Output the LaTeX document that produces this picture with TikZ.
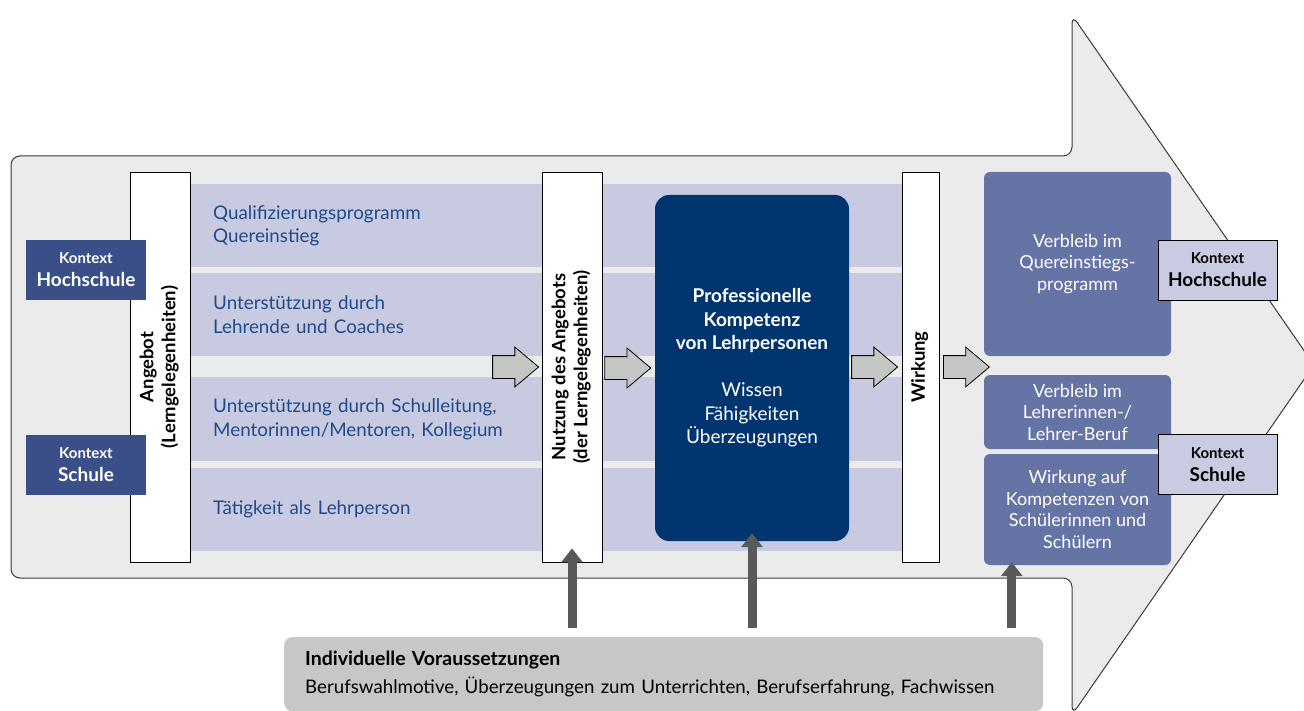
\documentclass[tikz,border=0pt]{standalone}
\usepackage{fontspec}
\setmainfont{Lato}
\usepackage{graphicx}
\usetikzlibrary{arrows.meta,positioning,calc,shapes.arrows}
\definecolor{bgarrow}{HTML}{EBEBEB}
\definecolor{outline}{HTML}{3A3A3A}
\definecolor{rowfill}{HTML}{C8CAE2}
\definecolor{rowtext}{HTML}{1F4B8B}
\definecolor{navy}{HTML}{00356F}
\definecolor{slate}{HTML}{3A4E87}
\definecolor{midblue}{HTML}{6673A5}
\definecolor{paleblue}{HTML}{C9CBE3}
\definecolor{arrowgray}{HTML}{C4C6C4}
\definecolor{boxgray}{HTML}{C6C7C6}
\definecolor{darkgray}{HTML}{595959}
\newcommand{\hochkant}[1]{\rotatebox{90}{\begin{tabular}{@{}c@{}}#1\end{tabular}}}
\newcommand{\kontext}[1]{{\fontsize{15}{17}\selectfont Kontext}\\[0pt]#1}

\begin{document}
\begin{tikzpicture}[x=1pt, y=-1pt,
  font=\fontsize{18.8}{23.5}\selectfont,
  row/.style={anchor=north west, fill=rowfill, text=rowtext, minimum height=83pt, text width=666pt, inner xsep=23pt, align=left},
  bar/.style={draw=black, fill=white, line width=0.8pt, minimum height=390pt, inner sep=0pt, font=\bfseries\fontsize{18.5}{22}\selectfont},
  ctxleft/.style={fill=slate, text=white, minimum width=120pt, minimum height=60pt, inner sep=0pt, align=center, font=\bfseries\fontsize{19}{23}\selectfont},
  ctxright/.style={ctxleft, fill=paleblue, draw=black, line width=0.8pt, text=black},
  result/.style={fill=midblue, text=white, rounded corners=6pt, minimum width=187pt, inner sep=0pt, align=center, font=\fontsize{18}{21.5}\selectfont},
  blockarrow/.style={single arrow, draw=black, fill=arrowgray, line width=0.8pt, minimum height=46pt, inner ysep=11pt, inner xsep=0pt, outer sep=0pt, single arrow head extend=8.5pt, single arrow tip angle=80, anchor=tip},
  uparrow/.style={-{Triangle[width=21pt,length=14pt]}, draw=darkgray, line width=9pt}
]
\useasboundingbox (0,0) rectangle (1304,711);
% big background arrow
\draw[fill=bgarrow, draw=outline, line width=1pt, rounded corners=9pt]
  (11,367) -- (11,156) -- (1072,156) -- (1072,15) -- (1314,365) -- (1072,715) -- (1072,578) -- (11,578) -- cycle;

% learning opportunities
\node[row] (zeile1) at (190,184) {Qualifizierungsprogramm\\Quereinstieg};
\node[row] (zeile2) at (190,273) {Unterstützung durch\\Lehrende und Coaches};
\node[row, minimum height=84pt] (zeile3) at (190,377) {Unterstützung durch Schulleitung,\\Mentorinnen/Mentoren, Kollegium};
\node[row] (zeile4) at (190,468) {Tätigkeit als Lehrperson};

\node[bar, minimum width=60pt] (angebot) at (160,367) {\hochkant{Angebot\\(Lerngelegenheiten)}};
\node[bar, minimum width=60pt] (nutzung) at (572,367) {\hochkant{Nutzung des Angebots\\(der Lerngelegenheiten)}};
\node[bar, minimum width=37pt] (wirkung) at (920.5,367) {\hochkant{Wirkung}};

\node[ctxleft] (kthsl) at (86,270) {\kontext{Hochschule}};
\node[ctxleft] (ktsl) at (86,465) {\kontext{Schule}};

\node[fill=navy, text=white, rounded corners=14pt, minimum width=194pt, minimum height=346pt, inner sep=0pt, align=center, font=\fontsize{19}{23.5}\selectfont] (kompetenz) at (752,368)
  {\textbf{Professionelle}\\\textbf{Kompetenz}\\\textbf{von Lehrpersonen}\\[23.5pt]Wissen\\Fähigkeiten\\Überzeugungen};

% outcomes
\node[result, minimum height=184pt] (verbleibqe) at (1077.5,264) {Verbleib im\\Quereinstiegs-\\programm};
\node[result, minimum height=74pt] (verbleibberuf) at (1077.5,412) {Verbleib im\\Lehrerinnen-/\\Lehrer-Beruf};
\node[result, minimum height=111pt] (wirkschueler) at (1077.5,509.5) {Wirkung auf\\Kompetenzen von\\Schülerinnen und\\Schülern};

\node[ctxright, minimum width=119pt] (kthsr) at (1217.5,270) {\kontext{Hochschule}};
\node[ctxright, minimum width=119pt] (ktsr) at (1217.5,464.5) {\kontext{Schule}};

% block arrows
\node[blockarrow] (pfeil1) at ([xshift=-3pt]nutzung.west) {};
\node[blockarrow] (pfeil2) at ([xshift=-4pt]kompetenz.west) {};
\node[blockarrow] (pfeil3) at ([xshift=-4pt]wirkung.west) {};
\node[blockarrow, anchor=tail] (pfeil4) at ([xshift=4pt]wirkung.east) {};

% individual prerequisites
\node[anchor=north west, fill=boxgray, rounded corners=8pt, minimum height=74pt, text width=717pt, inner xsep=21pt, align=left, font=\fontsize{18.7}{28}\selectfont] (voraus) at (284,637)
  {{\bfseries\fontsize{19.5}{28}\selectfont Individuelle Voraussetzungen}\\Berufswahlmotive, Überzeugungen zum Unterrichten, Berufserfahrung, Fachwissen};

\coordinate (zielC) at ($(wirkschueler.south west)+(28,0)$);
\draw[uparrow, shorten <=9pt, shorten >=-14pt] (nutzung.south |- voraus.north) -- (nutzung.south);
\draw[uparrow, shorten <=9pt, shorten >=-8pt] (kompetenz.south |- voraus.north) -- (kompetenz.south);
\draw[uparrow, shorten <=9pt, shorten >=-3pt] (zielC |- voraus.north) -- (zielC);
\end{tikzpicture}
\end{document}
